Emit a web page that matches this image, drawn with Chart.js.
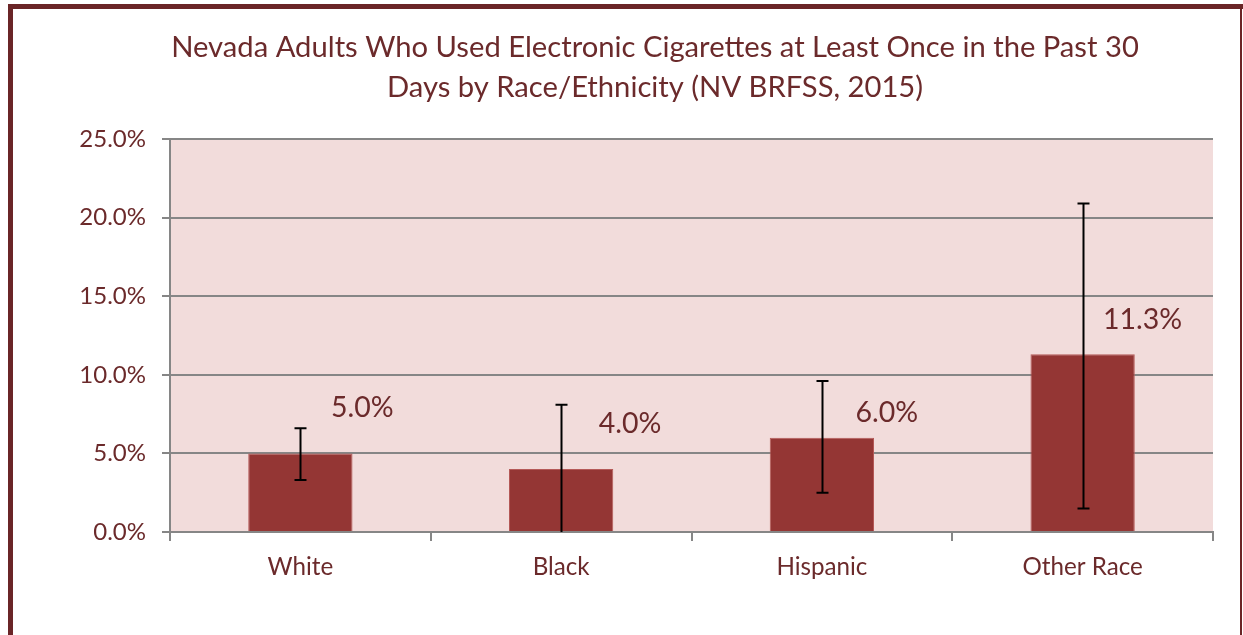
<!DOCTYPE html>
<html>
<head>
<meta charset="utf-8">
<script src="https://cdn.jsdelivr.net/npm/chart.js@4.4.1/dist/chart.umd.min.js"></script>
<style>
  html, body { margin: 0; padding: 0; background: #fff; }
  #wrap { width: 1243px; height: 635px; }
</style>
</head>
<body>
<div id="wrap"><canvas id="chart" width="1243" height="635"></canvas></div>
<script>
const categories = ['White', 'Black', 'Hispanic', 'Other Race'];
const percentValues = [5.0, 4.0, 6.0, 11.3];
const ciLow = [3.3, 0.0, 2.5, 1.5];
const ciHigh = [6.6, 8.1, 9.6, 20.9];
const yTicks = [0, 5, 10, 15, 20, 25];
const titleLines = [
  'Nevada Adults Who Used Electronic Cigarettes at Least Once in the Past 30',
  'Days by Race/Ethnicity (NV BRFSS, 2015)'
];

// manual nudges of the value labels, as placed in the original
const labelShiftX = [62, 69, 65, 60];
const labelRaise = [46, 45, 25, 35];

const FONT = 'Lato, "Open Sans", sans-serif';
const TEXT = '#6b2a2b';
const BORDER = '#6a2527';

const frame = {
  id: 'frame',
  beforeDraw(chart) {
    const { ctx, chartArea: a } = chart;
    ctx.save();
    ctx.fillStyle = '#fff';
    ctx.fillRect(0, 0, chart.width, chart.height);
    ctx.fillStyle = '#f2dcdb';
    ctx.fillRect(a.left, a.top, a.right - a.left, a.bottom - a.top);
    ctx.fillStyle = BORDER;
    ctx.fillRect(8, 4, chart.width - 8, 5);
    ctx.fillRect(8, 4, 5, chart.height - 4);
    ctx.fillRect(1240, 4, 2, chart.height - 4);
    // title sits a little right of the canvas centre in the original
    ctx.fillStyle = TEXT;
    ctx.font = '29.2px ' + FONT;
    ctx.textAlign = 'center';
    ctx.textBaseline = 'middle';
    titleLines.forEach((line, i) => ctx.fillText(line, 655, 48 + i * 40));
    ctx.restore();
  }
};

const errorBars = {
  id: 'errorBars',
  afterDatasetsDraw(chart) {
    const { ctx } = chart;
    const y = chart.scales.y;
    const meta = chart.getDatasetMeta(0);
    ctx.save();
    ctx.strokeStyle = '#000';
    ctx.lineWidth = 2;
    meta.data.forEach((bar, i) => {
      const x = Math.round(bar.x) + 0.5;
      const yl = y.getPixelForValue(ciLow[i]);
      const yh = y.getPixelForValue(ciHigh[i]);
      ctx.beginPath();
      ctx.moveTo(x, yl);
      ctx.lineTo(x, yh);
      ctx.moveTo(x - 6, yh);
      ctx.lineTo(x + 6, yh);
      if (ciLow[i] > 0) {
        ctx.moveTo(x - 6, yl);
        ctx.lineTo(x + 6, yl);
      }
      ctx.stroke();
    });
    // value labels
    ctx.fillStyle = TEXT;
    ctx.font = '28.5px ' + FONT;
    ctx.textAlign = 'center';
    ctx.textBaseline = 'middle';
    meta.data.forEach((bar, i) => {
      ctx.fillText(percentValues[i].toFixed(1) + '%', bar.x + labelShiftX[i], bar.y - labelRaise[i]);
    });
    ctx.restore();
  }
};

new Chart(document.getElementById('chart'), {
  type: 'bar',
  data: {
    labels: categories,
    datasets: [
      {
        data: percentValues,
        backgroundColor: '#943634',
        borderColor: '#b55a58',
        borderWidth: 1,
        barPercentage: 0.4,
        categoryPercentage: 1.0
      }
    ]
  },
  options: {
    responsive: false,
    animation: false,
    layout: {
      padding: { left: 20, right: 30, top: 139, bottom: 0 }
    },
    scales: {
      x: {
        afterFit(s) { s.height = 103; },
        ticks: {
          color: TEXT,
          font: { family: FONT, size: 24.2 },
          padding: 12
        },
        grid: {
          offset: true,
          drawOnChartArea: false,
          tickLength: 9,
          color: '#868686',
          lineWidth: 2
        },
        border: { color: '#868686', width: 2 }
      },
      y: {
        min: 0,
        max: 25,
        afterFit(s) { s.width = 150; },
        afterBuildTicks(s) { s.ticks = yTicks.map((v) => ({ value: v })); },
        ticks: {
          color: TEXT,
          font: { family: FONT, size: 24 },
          padding: 16,
          callback: (v) => v.toFixed(1) + '%'
        },
        grid: {
          color: '#868686',
          lineWidth: 2,
          tickLength: 8
        },
        border: { color: '#868686', width: 2 }
      }
    },
    plugins: {
      legend: { display: false },
      tooltip: { enabled: false },
      title: { display: false }
    }
  },
  plugins: [frame, errorBars]
});
</script>
</body>
</html>
